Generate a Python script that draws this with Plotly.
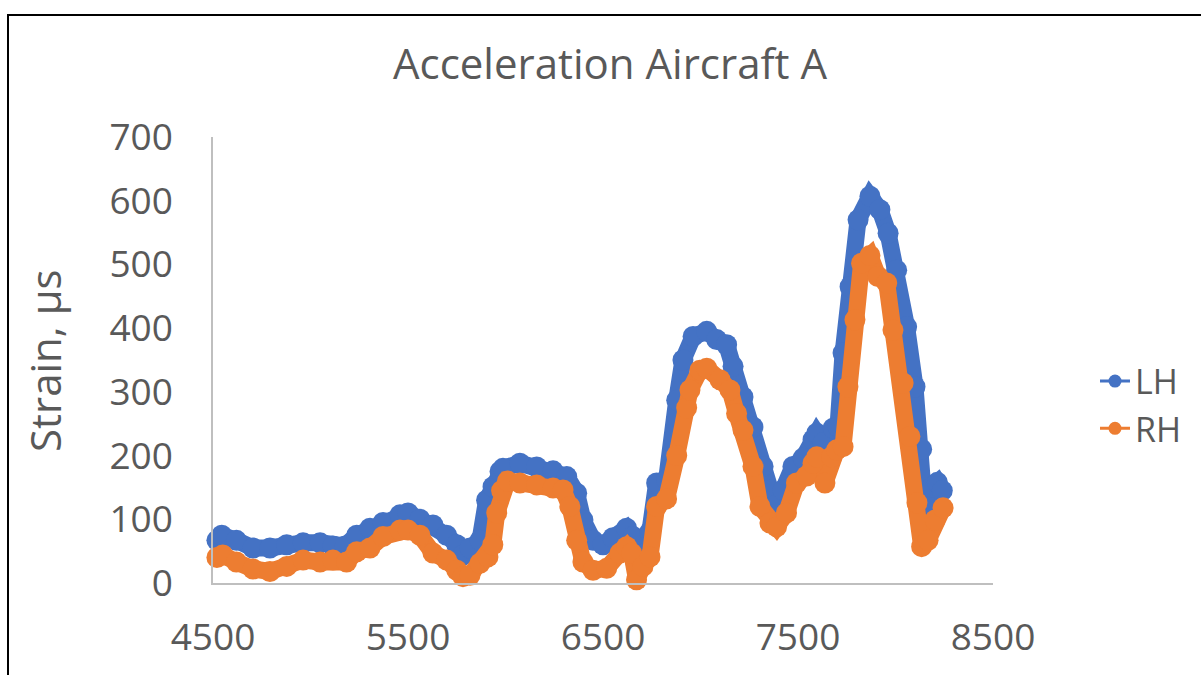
import plotly.graph_objects as go

# LH (blue) series
lh_x = [4520, 4545, 4620, 4705, 4792, 4878, 4962, 5049, 5115, 5177, 5237, 5305, 5372, 5459, 5500,
        5561, 5628, 5698, 5750, 5782, 5818, 5869, 5903, 5936, 5972, 5987, 6074, 6160, 6244, 6314,
        6365, 6397, 6449, 6500, 6551, 6621, 6654, 6670, 6700, 6740, 6775, 6826, 6878, 6910, 6962,
        7032, 7083, 7134, 7167, 7218, 7269, 7321, 7356, 7382, 7423, 7474, 7526, 7577, 7596, 7628,
        7680, 7705, 7731, 7767, 7808, 7869, 7920, 7962, 8006, 8057, 8100, 8134, 8150, 8165, 8185,
        8215, 8240]
lh_y = [67, 75, 67, 55, 55, 60, 63, 63, 58, 58, 75, 86, 95, 107, 110,
        100, 91, 75, 60, 44, 55, 67, 130, 151, 175, 180, 188, 182, 176, 167,
        141, 99, 67, 60, 71, 86, 73, 30, 45, 80, 157, 162, 287, 350, 387,
        395, 382, 374, 340, 292, 245, 183, 146, 122, 146, 183, 196, 225, 235, 220,
        243, 245, 361, 465, 570, 607, 586, 549, 491, 402, 308, 210, 110, 125, 150,
        158, 145]

# RH (orange) series
rh_x = [4520, 4550, 4620, 4705, 4792, 4878, 4962, 5049, 5115, 5185, 5237, 5305, 5372, 5459, 5500,
        5561, 5628, 5698, 5750, 5782, 5818, 5869, 5910, 5935, 5955, 5980, 6010, 6074, 6160, 6244,
        6295, 6330, 6365, 6397, 6449, 6519, 6587, 6621, 6647, 6672, 6705, 6741, 6775, 6826, 6878,
        6929, 6946, 6997, 7032, 7100, 7151, 7185, 7218, 7269, 7305, 7356, 7390, 7441, 7492, 7544,
        7577, 7596, 7638, 7672, 7698, 7731, 7756, 7792, 7826, 7869, 7910, 7955, 7987, 8039, 8074,
        8110, 8134, 8167, 8203, 8244]
rh_y = [40, 44, 33, 22, 18, 26, 36, 33, 36, 33, 49, 55, 73, 83, 83,
        75, 47, 36, 20, 10, 12, 31, 41, 60, 110, 145, 160, 157, 154, 149,
        146, 120, 67, 33, 20, 23, 47, 57, 47, 5, 26, 41, 120, 132, 200,
        275, 303, 334, 337, 319, 303, 266, 240, 183, 120, 94, 88, 110, 157, 168,
        188, 198, 157, 198, 209, 214, 308, 413, 502, 514, 481, 471, 397, 314, 230,
        126, 57, 67, 99, 118]

x_ticks = [4500, 5500, 6500, 7500, 8500]
y_ticks = [0, 100, 200, 300, 400, 500, 600, 700]

BLUE = "#4472C4"
ORANGE = "#ED7D31"
GREY = "#595959"
FONT = "Open Sans"

fig = go.Figure()
for name, xs, ys, col in [("LH", lh_x, lh_y, BLUE), ("RH", rh_x, rh_y, ORANGE)]:
    fig.add_trace(go.Scatter(x=xs, y=ys, mode="lines+markers", name=name, showlegend=False,
                             line=dict(color=col, width=17),
                             marker=dict(color=col, size=21, line=dict(width=0)),
                             cliponaxis=False))
for name, col in [("LH", BLUE), ("RH", ORANGE)]:
    fig.add_trace(go.Scatter(x=[None], y=[None], mode="lines+markers", name=name,
                             line=dict(color=col, width=3), marker=dict(color=col, size=13)))

L, R, T, B = 213, 208, 137, 92
pw, ph = 1201 - L - R, 675 - T - B

fig.update_layout(
    template="none",
    width=1201, height=675,
    margin=dict(l=L, r=R, t=T, b=B, pad=0, autoexpand=False),
    paper_bgcolor="white", plot_bgcolor="white",
    font=dict(family=FONT, color=GREY),
    title=dict(text="Acceleration Aircraft A", font=dict(size=42, color=GREY, family=FONT),
               xref="paper", x=(610 - L) / pw, xanchor="center",
               yref="container", y=1 - 64 / 675, yanchor="middle"),
    xaxis=dict(range=[4500, 8500], tickvals=x_ticks, ticktext=[str(v) for v in x_ticks],
               showgrid=False, zeroline=False, showline=True, linecolor="#BFBFBF", linewidth=1.5,
               ticks="", automargin=False, ticklabelstandoff=21,
               tickfont=dict(size=37, color=GREY, family=FONT)),
    yaxis=dict(range=[0, 700], tickvals=y_ticks, ticktext=[str(v) for v in y_ticks],
               showgrid=False, zeroline=False, showline=True, linecolor="#BFBFBF", linewidth=1.5,
               ticks="", automargin=False, ticklabelstandoff=31,
               tickfont=dict(size=37, color=GREY, family=FONT)),
    legend=dict(x=(1095 - L) / pw, y=(583 - 405) / ph, xanchor="left", yanchor="middle",
                font=dict(size=34, color=GREY, family=FONT), bgcolor="rgba(0,0,0,0)",
                borderwidth=0, tracegroupgap=0),
    showlegend=True,
    annotations=[dict(text="Strain, µs", xref="paper", yref="paper",
                      x=(44 - L) / pw, y=(583 - 361) / ph, xanchor="center", yanchor="middle",
                      textangle=-90, showarrow=False,
                      font=dict(size=42, color=GREY, family=FONT))],
    shapes=[dict(type="rect", xref="paper", yref="paper",
                 x0=(8 - L) / pw, x1=1 + (R + 20) / pw,
                 y0=-(B + 20) / ph, y1=1 + (T - 15) / ph,
                 line=dict(color="black", width=2), fillcolor="rgba(0,0,0,0)", layer="below")],
)

fig.write_html("out.html")
